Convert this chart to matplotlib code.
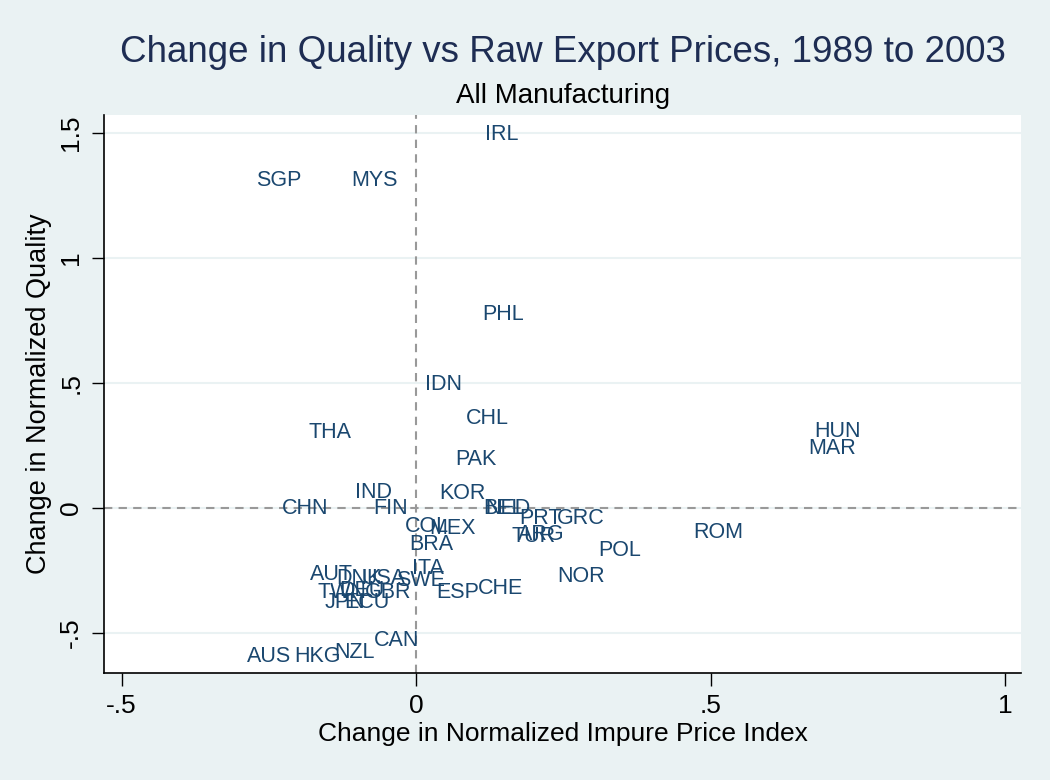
import matplotlib
matplotlib.use('Agg')
from matplotlib import pyplot as plt

plt.rcParams['font.family'] = ['Liberation Sans', 'DejaVu Sans']

# country codes and their (price, quality) changes
countries = ['IRL', 'SGP', 'MYS', 'PHL', 'IDN', 'CHL', 'THA', 'HUN', 'MAR', 'PAK',
             'IND', 'KOR', 'CHN', 'FIN', 'BEL', 'NED', 'PRT', 'GRC', 'COL', 'MEX',
             'TUR', 'ARG', 'ROM', 'BRA', 'POL', 'ITA', 'NOR', 'SWE', 'ESP', 'CHE',
             'AUT', 'DNK', 'USA', 'TWN', 'DEU', 'GBR', 'JPN', 'ECU', 'CAN', 'NZL',
             'HKG', 'AUS']
price_change = [0.146, -0.233, -0.070, 0.148, 0.046, 0.121, -0.146, 0.715, 0.706, 0.102,
                -0.073, 0.078, -0.188, -0.044, 0.149, 0.155, 0.211, 0.280, 0.019, 0.061,
                0.199, 0.212, 0.513, 0.025, 0.346, 0.020, 0.280, 0.007, 0.071, 0.143,
                -0.143, -0.098, -0.055, -0.126, -0.092, -0.048, -0.121, -0.083, -0.034, -0.105,
                -0.168, -0.250]
quality_change = [1.496, 1.308, 1.308, 0.776, 0.496, 0.360, 0.304, 0.308, 0.240, 0.196,
                  0.064, 0.060, -0.004, -0.004, 0.000, 0.000, -0.040, -0.040, -0.076, -0.080,
                  -0.116, -0.104, -0.100, -0.148, -0.172, -0.240, -0.272, -0.288, -0.336, -0.320,
                  -0.268, -0.280, -0.280, -0.336, -0.328, -0.336, -0.380, -0.380, -0.528, -0.576,
                  -0.596, -0.596]

x_ticks = [-0.5, 0, 0.5, 1]
x_tick_labels = ['-.5', '0', '.5', '1']
y_ticks = [-0.5, 0, 0.5, 1, 1.5]
y_tick_labels = ['-.5', '0', '.5', '1', '1.5']

bg = '#eaf2f3'
label_color = '#1a476f'

fig = plt.figure(figsize=(10.5, 7.8), dpi=100, facecolor=bg)
ax = fig.add_axes([104 / 1050, 1 - 673 / 780, (1021 - 104) / 1050, (673 - 115) / 780])
ax.set_facecolor('white')

for x, y, c in zip(price_change, quality_change, countries):
    ax.text(x, y, c, ha='center', va='center', fontsize=15.5, color=label_color)

ax.set_xlim(-0.53, 1.027)
ax.set_ylim(-0.66, 1.572)

for yt in y_ticks:
    ax.axhline(yt, color=bg, linewidth=1.5, zorder=0)
ax.axvline(0, color='#999999', linestyle=(0, (4, 3)), linewidth=1.5, zorder=1)
ax.axhline(0, color='#999999', linestyle=(0, (4, 3)), linewidth=1.5, zorder=1)

ax.set_xticks(x_ticks)
ax.set_xticklabels(x_tick_labels)
ax.set_yticks(y_ticks)
ax.set_yticklabels(y_tick_labels, rotation=90, va='center')
ax.tick_params(axis='both', length=9, width=1, labelsize=19, direction='out', pad=6)

for s in ['top', 'right']:
    ax.spines[s].set_visible(False)
for s in ['left', 'bottom']:
    ax.spines[s].set_linewidth(1.2)

ax.set_xlabel('Change in Normalized Impure Price Index', fontsize=19, labelpad=3)
ax.set_ylabel('Change in Normalized Quality', fontsize=19.5, labelpad=5)

fig.text(0.536, 1 - 52 / 780, 'Change in Quality vs Raw Export Prices, 1989 to 2003',
         ha='center', va='center', fontsize=26.5, color='#1e2d53')
fig.text(0.536, 1 - 96 / 780, 'All Manufacturing', ha='center', va='center', fontsize=20, color='black')

fig.savefig('out.png', dpi=100, facecolor=bg)
